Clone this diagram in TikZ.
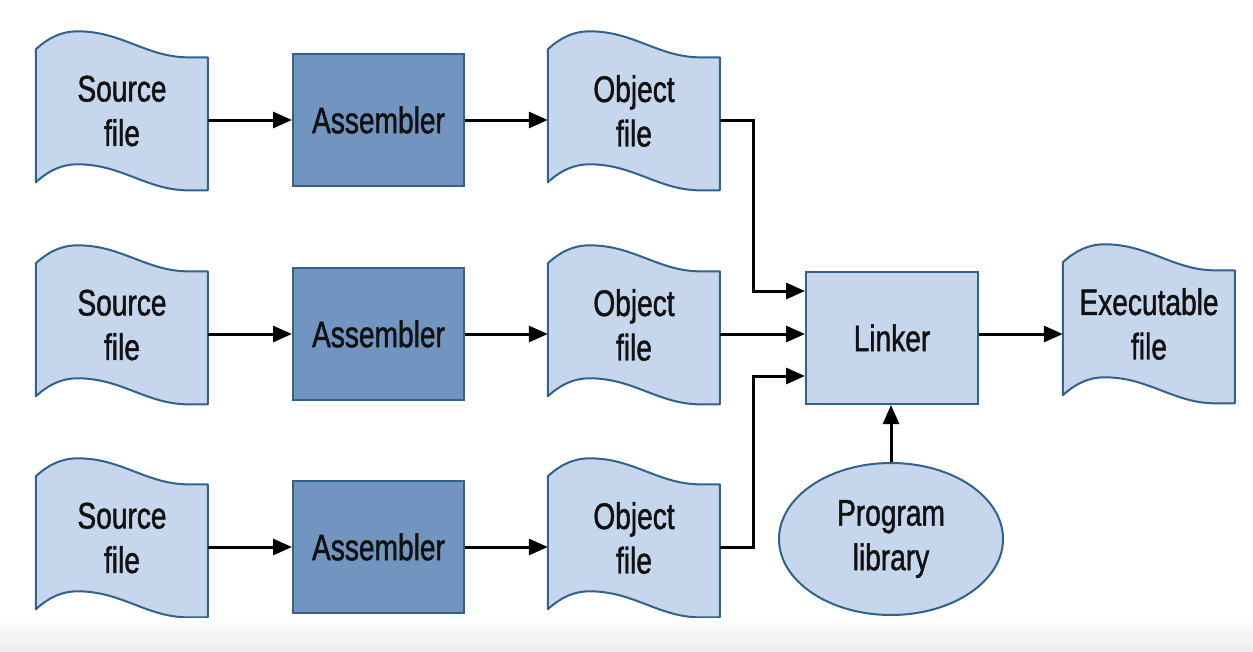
\documentclass[tikz,border=0pt]{standalone}
\usepackage{fontspec}
\setmainfont{Liberation Sans}[FakeStretch=0.76,FakeBold=1.2]
\usetikzlibrary{arrows.meta,calc,shapes.geometric}
\definecolor{lightfill}{RGB}{198,214,236}
\definecolor{darkfill}{RGB}{113,148,192}
\definecolor{edgeblue}{RGB}{50,98,140}
\definecolor{inkblack}{RGB}{17,17,17}
\pgfdeclarelayer{background}
\pgfsetlayers{background,main}
\tikzset{
  txt/.style={font=\fontsize{37}{44.5}\selectfont, text=inkblack, align=center},
  docnode/.style={txt, minimum width=172pt, minimum height=133pt, inner sep=0pt},
  asmbox/.style={txt, draw=edgeblue, line width=2pt, fill=darkfill, minimum width=171pt, minimum height=132pt, inner sep=0pt},
  linkbox/.style={txt, draw=edgeblue, line width=2pt, fill=lightfill, minimum width=172pt, minimum height=132pt, inner sep=0pt},
  libnode/.style={txt, ellipse, draw=edgeblue, line width=2pt, fill=lightfill, minimum width=224pt, minimum height=152pt, inner sep=0pt},
  docshape/.style={draw=edgeblue, line width=2pt, fill=lightfill, line join=round},
  arr/.style={line width=3pt, draw=black, -{Triangle[length=19pt,width=16pt]}},
}
\newcommand{\wavedoc}[1]{%
  \path[docshape, shift={(#1.north west)}]
    (0,5) .. controls (12,-6) and (25,-13) .. (42,-13)
    .. controls (85,-13) and (110,12) .. (150,13) -- (172,13) -- (172,146) -- (150,146)
    .. controls (110,145) and (85,120) .. (42,120)
    .. controls (25,120) and (12,127) .. (0,138) -- cycle;}
\begin{document}
\begin{tikzpicture}[x=1pt,y=-1pt]
\useasboundingbox (0,0) rectangle (1253,651);
\shade[top color=white, bottom color=black!7] (0,618) rectangle (1253,651);

% sources
\node[docnode] (s1) at (122,111) {Source\\file};
\node[docnode] (s2) at (122,325) {Source\\file};
\node[docnode] (s3) at (122,538) {Source\\file};
% assemblers
\node[asmbox] (a1) at (378.5,120) {Assembler};
\node[asmbox] (a2) at (378.5,334) {Assembler};
\node[asmbox] (a3) at (378.5,547) {Assembler};
% objects
\node[docnode] (o1) at (634,111) {Object\\file};
\node[docnode] (o2) at (634,325) {Object\\file};
\node[docnode] (o3) at (634,538) {Object\\file};
% linker, executable, library
\node[linkbox] (L) at (892,338) {Linker};
\node[docnode] (E) at (1149,324) {Executable\\file};
\node[libnode] (P) at (891,539) {Program\\library};

\begin{pgfonlayer}{background}
\foreach \n in {s1,s2,s3,o1,o2,o3,E}{\wavedoc{\n}}
\end{pgfonlayer}

% connectors
\foreach \i in {1,2,3}{
  \draw[arr] (s\i.east |- a\i) -- (a\i.west);
  \draw[arr] (a\i.east) -- (a\i.east -| o\i.west);
}
\draw[arr] (a1 -| o1.east) -- ++(33,0) |- ($(L.west)+(0,-47)$);
\draw[arr] (a2 -| o2.east) -- (a2 -| L.west);
\draw[arr] (a3 -| o3.east) -- ++(33,0) |- ($(L.west)+(0,38)$);
\draw[arr] (L.east |- a2) -- (a2 -| E.west);
\draw[arr] (P.north) -- (P.north |- L.south);
\end{tikzpicture}
\end{document}
